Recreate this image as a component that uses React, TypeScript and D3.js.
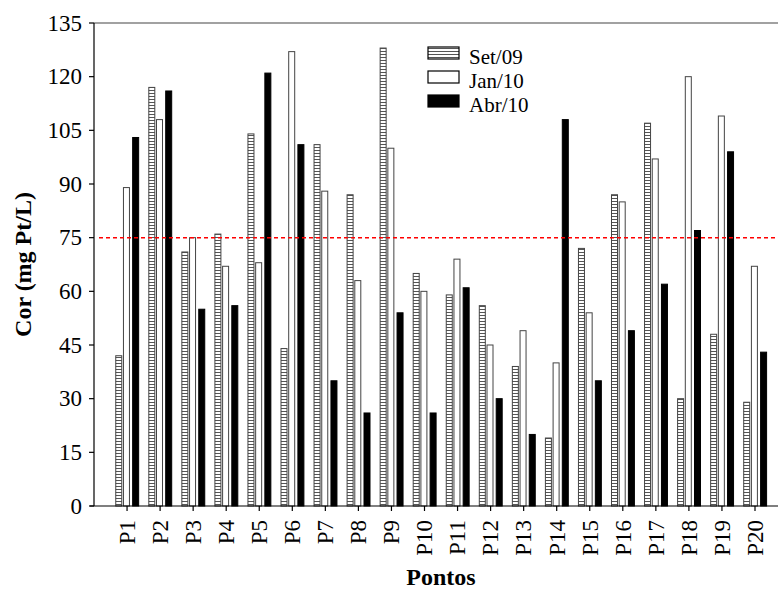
import React from "react";
import * as d3 from "d3";

const categories = ["P1","P2","P3","P4","P5","P6","P7","P8","P9","P10","P11","P12","P13","P14","P15","P16","P17","P18","P19","P20"];
const seriesNames = ["Set/09", "Jan/10", "Abr/10"];
const set09 = [42, 117, 71, 76, 104, 44, 101, 87, 128, 65, 59, 56, 39, 19, 72, 87, 107, 30, 48, 29];
const jan10 = [89, 108, 75, 67, 68, 127, 88, 63, 100, 60, 69, 45, 49, 40, 54, 85, 97, 120, 109, 67];
const abr10 = [103, 116, 55, 56, 121, 101, 35, 26, 54, 26, 61, 30, 20, 108, 35, 49, 62, 77, 99, 43];
const yTicks = [0, 15, 30, 45, 60, 75, 90, 105, 120, 135];
const limit = 75;

const W = 778, H = 590;
const left = 94, top = 23, bottom = 506;
const FONT = "Liberation Serif, Times New Roman, DejaVu Serif, serif";

export default function App() {
  const x = d3.scaleLinear().domain([0, categories.length + 1]).range([left, left + 33.05 * (categories.length + 1)]);
  const y = d3.scaleLinear().domain([0, 135]).range([bottom, top]);
  const series = [set09, jan10, abr10];
  const offsets = [-8.3, -0.6, 8.6];
  const bw = 6;
  const fills = ["url(#hatch)", "#fff", "#000"];

  return (
    <svg width={W} height={H} style={{ position: "absolute", left: 0, top: 0, background: "#fff" }}>
      <defs>
        <pattern id="hatch" patternUnits="userSpaceOnUse" width={6} height={3}>
          <rect width={6} height={3} fill="#fff" />
          <line x1={0} x2={6} y1={0.5} y2={0.5} stroke="#555" strokeWidth={1} />
        </pattern>
      </defs>
      {/* frame top line */}
      <line x1={left} x2={W} y1={top} y2={top} stroke="#444" strokeWidth={1.2} />
      {/* bars */}
      {categories.map((c, i) =>
        series.map((s, k) => {
          const cx = x(i + 1) + offsets[k];
          return (
            <rect key={c + k} x={cx - bw / 2} y={y(s[i])} width={bw} height={bottom - y(s[i])}
              fill={fills[k]} stroke={k === 2 ? "#000" : "#444"} strokeWidth={1} />
          );
        })
      )}
      {/* reference limit */}
      <line x1={left + 5} x2={W} y1={y(limit)} y2={y(limit)} stroke="#ff0000" strokeWidth={1.5} strokeDasharray="4,3" />
      {/* axes */}
      <line x1={left} x2={left} y1={top} y2={bottom} stroke="#000" strokeWidth={1.2} />
      <line x1={left - 4} x2={W} y1={bottom} y2={bottom} stroke="#000" strokeWidth={1.2} />
      {yTicks.map(t => (
        <g key={t}>
          <line x1={left - 5} x2={left} y1={y(t)} y2={y(t)} stroke="#000" strokeWidth={1.2} />
          <text x={left - 12} y={y(t)} dy="0.34em" textAnchor="end" fontFamily={FONT} fontSize={23}>{t}</text>
        </g>
      ))}
      {categories.map((c, i) => (
        <g key={c}>
          <line x1={x(i + 1)} x2={x(i + 1)} y1={bottom} y2={bottom + 5} stroke="#000" strokeWidth={1.2} />
          <text transform={`translate(${x(i + 1)},${bottom + 14}) rotate(-90)`} dy="0.34em" textAnchor="end"
            fontFamily={FONT} fontSize={23}>{c}</text>
        </g>
      ))}
      <text transform={`translate(31,${(top + bottom) / 2}) rotate(-90)`} textAnchor="middle"
        fontFamily={FONT} fontSize={24} fontWeight="bold">Cor (mg Pt/L)</text>
      <text x={441} y={585} textAnchor="middle" fontFamily={FONT} fontSize={24} fontWeight="bold">Pontos</text>
      {/* legend */}
      {seriesNames.map((n, k) => (
        <g key={n}>
          <rect x={428} y={47 + k * 24} width={31} height={12} fill={fills[k]} stroke="#000" strokeWidth={1.2} />
          <text x={469} y={64 + k * 24} fontFamily={FONT} fontSize={21}>{n}</text>
        </g>
      ))}
    </svg>
  );
}
